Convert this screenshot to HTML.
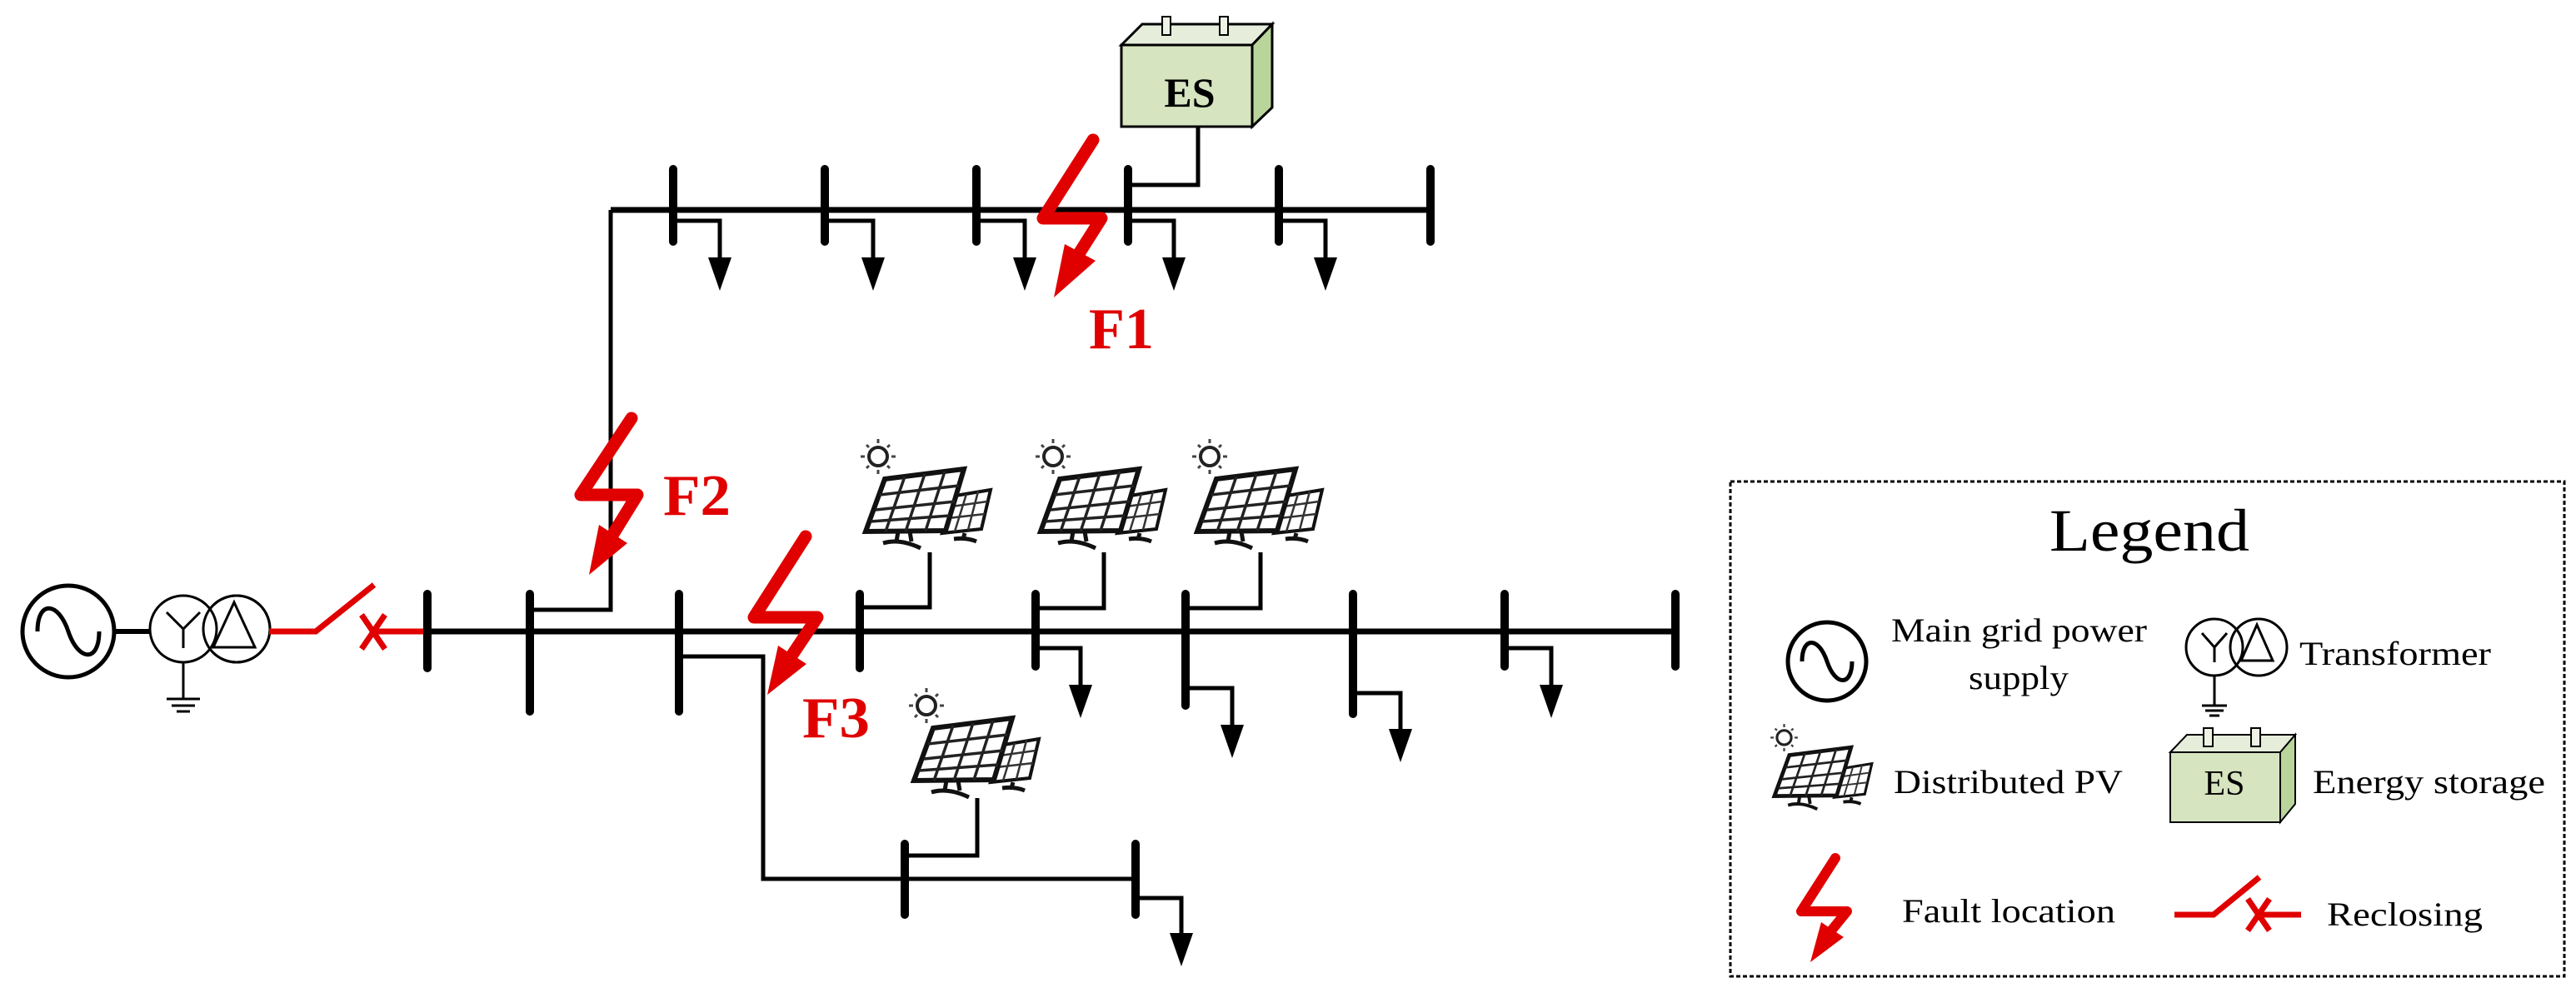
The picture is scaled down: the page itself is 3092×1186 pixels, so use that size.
<!DOCTYPE html>
<html><head><meta charset="utf-8"><style>
html,body{margin:0;padding:0;background:#fff;}
svg{display:block;}
text{font-family:"Liberation Serif",serif;}
</style></head><body>
<svg width="3092" height="1186" viewBox="0 0 3092 1186" xmlns="http://www.w3.org/2000/svg">
<defs>
<g id="pv">
 <circle cx="34" cy="48" r="11" fill="none" stroke="#222" stroke-width="4"/>
 <g stroke="#444" stroke-width="3">
  <line x1="34" y1="27" x2="34" y2="32"/><line x1="34" y1="64" x2="34" y2="69"/>
  <line x1="13" y1="48" x2="18" y2="48"/><line x1="50" y1="48" x2="55" y2="48"/>
  <line x1="20" y1="34" x2="23" y2="37"/><line x1="45" y1="59" x2="48" y2="62"/>
  <line x1="48" y1="34" x2="45" y2="37"/><line x1="20" y1="62" x2="23" y2="59"/>
 </g>
 <polygon points="127,95 169,88 158,135 111,140" fill="#fff" stroke="#111" stroke-width="4"/>
 <g stroke="#333" stroke-width="2.5">
  <line x1="140" y1="93" x2="126" y2="138"/><line x1="154" y1="90" x2="142" y2="136"/>
  <line x1="122" y1="108" x2="165" y2="102"/><line x1="118" y1="122" x2="162" y2="117"/>
 </g>
 <polygon points="42,75 137,63 115,137 19,138" fill="#fff" stroke="#111" stroke-width="6"/>
 <g stroke="#222" stroke-width="3.5">
  <line x1="66" y1="72" x2="43" y2="138"/><line x1="90" y1="69" x2="67" y2="138"/><line x1="114" y1="66" x2="91" y2="137"/>
  <line x1="36" y1="94" x2="131" y2="83"/><line x1="31" y1="112" x2="126" y2="102"/><line x1="25" y1="126" x2="120" y2="119"/>
 </g>
 <g stroke="#111" stroke-width="5" fill="none">
  <line x1="58" y1="138" x2="56" y2="150"/><line x1="72" y1="138" x2="74" y2="150"/>
  <path d="M40,152 Q60,146 85,158"/>
  <line x1="138" y1="140" x2="136" y2="147"/><path d="M125,147 Q140,145 152,150"/>
 </g>
</g>
</defs>

<!-- generator -->
<circle cx="82" cy="758" r="55" fill="none" stroke="#000" stroke-width="5"/>
<path d="M45,758 C45,720 70,722 82,758 C94,794 119,796 119,758" fill="none" stroke="#000" stroke-width="5"/>
<line x1="137" y1="758" x2="181" y2="758" stroke="#000" stroke-width="6"/>
<!-- transformer -->
<circle cx="284" cy="755" r="40" fill="none" stroke="#000" stroke-width="3"/>
<circle cx="220" cy="755" r="40" fill="#fff" stroke="#000" stroke-width="3"/>
<circle cx="284" cy="755" r="40" fill="none" stroke="#000" stroke-width="3"/>
<path d="M200,735 L220,755 L240,735 M220,755 L220,778" fill="none" stroke="#000" stroke-width="3"/>
<polygon points="281,723 306,777 256,777" fill="none" stroke="#000" stroke-width="3"/>
<line x1="220" y1="795" x2="220" y2="839" stroke="#000" stroke-width="3"/>
<line x1="200" y1="839" x2="240" y2="839" stroke="#000" stroke-width="3"/>
<line x1="206" y1="847" x2="234" y2="847" stroke="#000" stroke-width="3"/>
<line x1="212" y1="854" x2="228" y2="854" stroke="#000" stroke-width="3"/>
<!-- recloser -->
<g stroke="#e00000" stroke-width="7" fill="none">
<polyline points="323,758 379,758 449,702"/>
<line x1="448" y1="758" x2="512" y2="758"/>
<line x1="434" y1="738" x2="462" y2="779"/><line x1="462" y1="738" x2="434" y2="779"/>
</g>

<g stroke="#000" fill="none" stroke-linecap="butt">
<!-- main bus -->
<line x1="513" y1="758" x2="2011" y2="758" stroke-width="7"/>
<!-- up branch to top feeder -->
<polyline points="636,732 733,732 733,252" stroke-width="5"/>
<line x1="733" y1="252" x2="1717" y2="252" stroke-width="7"/>
<!-- down branch -->
<polyline points="815,788 916,788 916,1055 1363,1055" stroke-width="5"/>
<!-- PV connectors -->
<polyline points="1116,663 1116,729 1037,729" stroke-width="5"/>
<polyline points="1325,663 1325,730 1243,730" stroke-width="5"/>
<polyline points="1513,663 1513,730 1423,730" stroke-width="5"/>
<polyline points="1173,958 1173,1027 1086,1027" stroke-width="5"/>
<polyline points="1438,152 1438,222 1354,222" stroke-width="5"/>
<!-- load branches -->
<polyline points="1243,778 1297,778 1297,830" stroke-width="5"/>
<polyline points="1423,826 1479,826 1479,876" stroke-width="5"/>
<polyline points="1624,832 1681,832 1681,880" stroke-width="5"/>
<polyline points="1806,778 1862,778 1862,830" stroke-width="5"/>
<polyline points="1363,1078 1418,1078 1418,1125" stroke-width="5"/>
<polyline points="808,265 864,265 864,314" stroke-width="5"/>
<polyline points="990,265 1048,265 1048,314" stroke-width="5"/>
<polyline points="1172,265 1230,265 1230,314" stroke-width="5"/>
<polyline points="1354,265 1409,265 1409,314" stroke-width="5"/>
<polyline points="1535,265 1591,265 1591,314" stroke-width="5"/>
</g>
<!-- bus bars -->
<g stroke="#000" stroke-width="10" stroke-linecap="round">
<line x1="513" y1="713" x2="513" y2="802"/>
<line x1="636" y1="713" x2="636" y2="854"/>
<line x1="815" y1="713" x2="815" y2="854"/>
<line x1="1032" y1="713" x2="1032" y2="802"/>
<line x1="1243" y1="713" x2="1243" y2="800"/>
<line x1="1423" y1="713" x2="1423" y2="847"/>
<line x1="1624" y1="713" x2="1624" y2="857"/>
<line x1="1806" y1="713" x2="1806" y2="800"/>
<line x1="2011" y1="713" x2="2011" y2="800"/>
<line x1="808" y1="203" x2="808" y2="290"/>
<line x1="990" y1="203" x2="990" y2="290"/>
<line x1="1172" y1="203" x2="1172" y2="290"/>
<line x1="1354" y1="203" x2="1354" y2="290"/>
<line x1="1535" y1="203" x2="1535" y2="290"/>
<line x1="1717" y1="203" x2="1717" y2="290"/>
<line x1="1086" y1="1013" x2="1086" y2="1098"/>
<line x1="1363" y1="1013" x2="1363" y2="1098"/>
</g>
<!-- load arrowheads -->
<g fill="#000">
<polygon points="1283,822 1311,822 1297,862"/>
<polygon points="1465,870 1493,870 1479,910"/>
<polygon points="1667,875 1695,875 1681,915"/>
<polygon points="1848,822 1876,822 1862,862"/>
<polygon points="1404,1120 1432,1120 1418,1160"/>
<polygon points="850,309 878,309 864,349"/>
<polygon points="1034,309 1062,309 1048,349"/>
<polygon points="1216,309 1244,309 1230,349"/>
<polygon points="1395,309 1423,309 1409,349"/>
<polygon points="1577,309 1605,309 1591,349"/>
</g>

<!-- PV icons -->
<use href="#pv" transform="translate(1020,500)"/>
<use href="#pv" transform="translate(1230,500)"/>
<use href="#pv" transform="translate(1418,500)"/>
<use href="#pv" transform="translate(1078,799)"/>

<!-- ES box -->
<polygon points="1346,54 1371,29 1527,29 1503,54" fill="#e6eedb" stroke="#000" stroke-width="3"/>
<polygon points="1503,54 1527,29 1527,129 1503,152" fill="#b9d59c" stroke="#000" stroke-width="3"/>
<rect x="1346" y="54" width="157" height="98" fill="#d6e4c0" stroke="#000" stroke-width="3"/>
<rect x="1395" y="20" width="10" height="22" fill="#eef3e6" stroke="#000" stroke-width="2"/>
<rect x="1464" y="20" width="10" height="22" fill="#eef3e6" stroke="#000" stroke-width="2"/>
<text x="1428" y="128" font-size="50" font-weight="bold" text-anchor="middle">ES</text>

<!-- faults -->
<g fill="none" stroke="#e00000" stroke-width="15" stroke-linejoin="round" stroke-linecap="round">
<polyline points="1312,168 1252,262 1322,262 1296,303"/>
<polyline points="758,502 697,594 765,594 736,641"/>
<polyline points="967,644 905,741 981,741 951,786"/>
</g>
<g fill="#e00000">
<polygon points="1278,293 1315,313 1265,357"/>
<polygon points="719,630 753,652 707,690"/>
<polygon points="934,775 968,797 921,834"/>
</g>
<g fill="#e00000" font-weight="bold" font-size="70">
<text x="1307" y="418" textLength="78" lengthAdjust="spacingAndGlyphs">F1</text>
<text x="796" y="618" textLength="81" lengthAdjust="spacingAndGlyphs">F2</text>
<text x="963" y="885" textLength="81" lengthAdjust="spacingAndGlyphs">F3</text>
</g>

<!-- legend -->
<rect x="2077" y="578" width="1001" height="594" fill="none" stroke="#000" stroke-width="3" stroke-dasharray="5,3"/>
<text x="2460" y="661" font-size="72" textLength="240" lengthAdjust="spacingAndGlyphs">Legend</text>
<circle cx="2193" cy="794" r="47" fill="none" stroke="#000" stroke-width="5"/>
<path d="M2163,794 C2163,764 2183,764 2193,794 C2203,824 2223,824 2223,794" fill="none" stroke="#000" stroke-width="5"/>
<g font-size="40">
<text x="2270" y="770" textLength="307" lengthAdjust="spacingAndGlyphs">Main grid power</text>
<text x="2363" y="827" textLength="120" lengthAdjust="spacingAndGlyphs">supply</text>
<text x="2760" y="798" textLength="230" lengthAdjust="spacingAndGlyphs">Transformer</text>
<text x="2273" y="952" textLength="275" lengthAdjust="spacingAndGlyphs">Distributed PV</text>
<text x="2776" y="952" textLength="279" lengthAdjust="spacingAndGlyphs">Energy storage</text>
<text x="2283" y="1107" textLength="256" lengthAdjust="spacingAndGlyphs">Fault location</text>
<text x="2793" y="1111" textLength="187" lengthAdjust="spacingAndGlyphs">Reclosing</text>
</g>
<!-- legend transformer -->
<circle cx="2658" cy="777" r="34" fill="#fff" stroke="#000" stroke-width="3"/>
<circle cx="2711" cy="777" r="34" fill="none" stroke="#000" stroke-width="3"/>
<path d="M2643,760 L2658,777 L2673,760 M2658,777 L2658,795" fill="none" stroke="#000" stroke-width="3"/>
<polygon points="2709,750 2728,793 2690,793" fill="none" stroke="#000" stroke-width="3"/>
<line x1="2658" y1="811" x2="2658" y2="847" stroke="#000" stroke-width="3"/>
<line x1="2643" y1="847" x2="2673" y2="847" stroke="#000" stroke-width="3"/>
<line x1="2647" y1="853" x2="2669" y2="853" stroke="#000" stroke-width="3"/>
<line x1="2652" y1="859" x2="2664" y2="859" stroke="#000" stroke-width="3"/>
<!-- legend PV -->
<use href="#pv" transform="translate(2115,848) scale(0.78)"/>
<!-- legend ES -->
<polygon points="2605,903 2625,882 2755,882 2737,903" fill="#e6eedb" stroke="#000" stroke-width="2"/>
<polygon points="2737,903 2755,882 2755,965 2737,987" fill="#b9d59c" stroke="#000" stroke-width="2"/>
<rect x="2605" y="903" width="132" height="84" fill="#d6e4c0" stroke="#000" stroke-width="2"/>
<rect x="2645" y="874" width="11" height="22" fill="#eef3e6" stroke="#000" stroke-width="2"/>
<rect x="2702" y="874" width="11" height="22" fill="#eef3e6" stroke="#000" stroke-width="2"/>
<text x="2670" y="954" font-size="42" text-anchor="middle">ES</text>
<!-- legend fault -->
<polyline points="2203,1030 2162,1094 2217,1094 2199,1116" fill="none" stroke="#e00000" stroke-width="12" stroke-linejoin="round" stroke-linecap="round"/>
<polygon points="2186,1107 2213,1125 2173,1155" fill="#e00000"/>
<!-- legend recloser -->
<g stroke="#e00000" stroke-width="7" fill="none">
<polyline points="2610,1098 2657,1098 2712,1053"/>
<line x1="2713" y1="1098" x2="2762" y2="1098"/>
<line x1="2698" y1="1079" x2="2724" y2="1117"/><line x1="2724" y1="1079" x2="2698" y2="1117"/>
</g>
</svg>
</body></html>
